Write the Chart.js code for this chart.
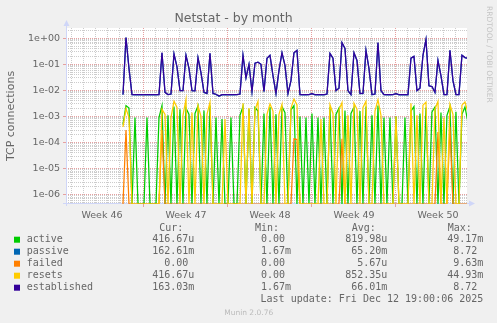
<!DOCTYPE html>
<html>
<head>
<meta charset="utf-8">
<script src="https://cdn.jsdelivr.net/npm/chart.js@4.4.1/dist/chart.umd.min.js"></script>
<style>
  html, body { margin: 0; padding: 0; background: #f0f0f0; }
  canvas { display: block; }
</style>
</head>
<body>
<canvas id="netstat-chart" width="497" height="323"></canvas>
<script>
"use strict"

// one sample every 6 hours, x is in days from the left edge of the graph
const dataStart = 4.25;
const dataStep = 0.25;

const seriesNames = ["active", "passive", "failed", "resets", "established"];
const seriesColors = ["#00cc00", "#0066b3", "#ff8000", "#ffcc00", "#330099"];

const active = [
  0.0005, 0.0026, 0.0021, 0, 0.0009, 0, 0, 0, 0.0009, 0,
  0, 0, 0.0009, 0.0026, 0, 0.0011, 0, 0.0024, 0, 0.0019,
  0, 0.0021, 0.0012, 0, 0.0013, 0.0025, 0, 0.0017, 0, 0.0026,
  0, 0.0009, 0, 0.0008, 0, 0, 0.0009, 0, 0, 0.0011,
  0.0024, 0, 0.0019, 0, 0.0022, 0.0016, 0, 0.0013, 0, 0.0023,
  0, 0.0012, 0, 0.0024, 0.0014, 0, 0.0018, 0.0026, 0, 0.001,
  0, 0.0009, 0, 0.0013, 0, 0.0009, 0, 0.0009, 0, 0.0023,
  0, 0.0012, 0.0021, 0, 0.0017, 0, 0.0013, 0.0022, 0, 0.0016,
  0, 0.0024, 0, 0.0011, 0, 0.0026, 0, 0.0009, 0, 0.0009,
  0, 0.001, 0, 0, 0.0009, 0, 0.0016, 0.0024, 0, 0.0013,
  0, 0.0022, 0, 0.0015, 0.0023, 0, 0.0014, 0, 0.0011, 0.0024,
  0, 0.0015, 0, 0.0012, 0.0023, 0.0006
];
const passive = [
  0.0068, 1.05, 0.068, 0.0068, 0.0067, 0.0067, 0.0068, 0.0067, 0.0067, 0.0068,
  0.0067, 0.0067, 0.0068, 0.27, 0.0083, 0.0068, 0.0071, 0.25, 0.079, 0.0097,
  0.0097, 0.22, 0.069, 0.0097, 0.0095, 0.18, 0.047, 0.0083, 0.0075, 0.26,
  0.0075, 0.007, 0.0059, 0.0067, 0.0067, 0.0068, 0.0067, 0.0067, 0.0068, 0.0071,
  0.22, 0.03, 0.099, 0.0089, 0.11, 0.12, 0.099, 0.0089, 0.17, 0.22,
  0.036, 0.0075, 0.057, 0.27, 0.089, 0.0075, 0.023, 0.27, 0.34, 0.0068,
  0.0067, 0.0067, 0.0068, 0.0074, 0.0067, 0.0067, 0.0068, 0.0067, 0.0071, 0.26,
  0.17, 0.0097, 0.012, 0.67, 0.4, 0.0097, 0.0068, 0.27, 0.14, 0.0075,
  0.0075, 0.34, 0.068, 0.0068, 0.0071, 0.67, 0.0097, 0.0068, 0.0067, 0.0067,
  0.0068, 0.0074, 0.0067, 0.0067, 0.0068, 0.0067, 0.17, 0.2, 0.0097, 0.012,
  0.22, 0.88, 0.015, 0.014, 0.0083, 0.14, 0.036, 0.0068, 0.0068, 0.34,
  0.023, 0.0068, 0.0068, 0.22, 0.18, 0.17
];
const failed = [
  0, 0.0003, 0, 0, 0, 0, 0, 0, 0, 0,
  0, 0, 0, 0.0003, 0, 0, 0, 0, 0, 0,
  0, 0, 0, 0, 0, 0, 0, 0, 0, 0,
  0, 0, 0, 0, 0, 0, 0, 0, 0, 0,
  0, 0, 0, 0, 0, 0, 0, 0, 0, 0,
  0, 0, 0, 0, 0, 0, 0, 0.00014, 0.00013, 0,
  0, 0, 0, 0, 0, 0, 0, 0, 0, 0,
  0, 0, 0, 0.00014, 0, 0, 0, 0, 0, 0,
  0, 0, 0, 0, 0, 0, 0, 0, 0, 0,
  0, 0, 0, 0, 0, 0, 0, 0, 0, 0,
  0, 0, 0, 0, 0, 0.00025, 0, 0, 0, 0.0004,
  0, 0, 0, 0, 0, 0
];
const resets = [
  0.0004, 0.002, 0.0009, 0, 0, 0, 0, 0, 0, 0,
  0, 0, 0, 0.0019, 0.0012, 0, 0.0009, 0.0038, 0.0022, 0,
  0.0011, 0.0045, 0, 0.0014, 0, 0.0026, 0.001, 0, 0.0012, 0.0035,
  0, 0, 0, 0, 0.0008, 0, 0, 0, 0, 0,
  0.0032, 0, 0.0021, 0, 0.0018, 0.0038, 0, 0, 0.0012, 0.003,
  0.0016, 0, 0.0012, 0.0029, 0, 0, 0.0021, 0.0046, 0.0028, 0,
  0, 0, 0, 0, 0, 0, 0.0008, 0, 0, 0.0028,
  0.0013, 0, 0.0018, 0.0034, 0, 0.0011, 0, 0.0032, 0.0019, 0,
  0.0022, 0.0038, 0, 0, 0.0016, 0.0043, 0.0011, 0, 0, 0,
  0, 0.001, 0, 0, 0, 0, 0.0032, 0, 0.0011, 0,
  0.0027, 0.0035, 0, 0, 0.0019, 0.0038, 0, 0.0009, 0, 0.0029,
  0.0012, 0, 0, 0.0027, 0.0036, 0.0014
];
const established = [
  0.0069, 1.06, 0.069, 0.0069, 0.0068, 0.0068, 0.0069, 0.0068, 0.0068, 0.0069,
  0.0068, 0.0068, 0.0069, 0.28, 0.0084, 0.0069, 0.0072, 0.25, 0.08, 0.0098,
  0.0098, 0.22, 0.07, 0.0098, 0.0096, 0.18, 0.048, 0.0084, 0.0076, 0.26,
  0.0076, 0.0071, 0.006, 0.0068, 0.0068, 0.0069, 0.0068, 0.0068, 0.0069, 0.0072,
  0.22, 0.03, 0.1, 0.009, 0.11, 0.12, 0.1, 0.009, 0.17, 0.22,
  0.037, 0.0076, 0.058, 0.28, 0.09, 0.0076, 0.024, 0.28, 0.34, 0.0069,
  0.0068, 0.0068, 0.0069, 0.0075, 0.0068, 0.0068, 0.0069, 0.0068, 0.0072, 0.26,
  0.17, 0.0098, 0.012, 0.68, 0.4, 0.0098, 0.0069, 0.28, 0.14, 0.0076,
  0.0076, 0.34, 0.069, 0.0069, 0.0072, 0.68, 0.0098, 0.0069, 0.0068, 0.0068,
  0.0069, 0.0075, 0.0068, 0.0068, 0.0069, 0.0068, 0.17, 0.2, 0.0098, 0.012,
  0.22, 0.89, 0.015, 0.014, 0.0084, 0.14, 0.037, 0.0069, 0.0069, 0.34,
  0.024, 0.0069, 0.0069, 0.22, 0.18, 0.17
];

// axis ticks and labels
const weekLabels = ["Week 46", "Week 47", "Week 48", "Week 49", "Week 50"];
const weekCenters = [2.5, 9.5, 16.5, 23.5, 30.5];
const weekStarts = [6, 13, 20, 27];
const yTickLabels = ["1e+00", "1e-01", "1e-02", "1e-03", "1e-04", "1e-05", "1e-06"];

// legend table
const curValues = ["416.67u", "162.61m", "0.00 ", "416.67u", "163.03m"];
const minValues = ["0.00 ", "1.67m", "0.00 ", "0.00 ", "1.67m"];
const avgValues = ["819.98u", "65.20m", "5.67u", "852.35u", "66.01m"];
const maxValues = ["49.17m", "8.72 ", "9.63m", "44.93m", "8.72 "];
const lastUpdate = "Last update: Fri Dec 12 19:00:06 2025";

const yMin = 4.4e-7;
const yMax = 2.45;
const xMin = -0.5;
const xMax = 32.92;

const fontColor = "#666666";
const axisColor = "#cfd6f8";
const gridMinor = "#cccccc";
const gridMajor = "#e6a0a0";

function isDecade(v) {
  const l = Math.log10(v);
  return Math.abs(l - Math.round(l)) < 1e-9;
}

// rrdtool draws zero at the bottom of a log graph
function toPoints(values) {
  return values.map((v, i) => ({ x: dataStart + i * dataStep, y: v > 0 ? v : yMin }));
}

const seriesData = [active, passive, failed, resets, established];

const datasets = seriesNames.map((name, i) => ({
  label: name,
  data: toPoints(seriesData[i]),
  borderColor: seriesColors[i],
  backgroundColor: seriesColors[i],
  borderWidth: 1.25,
  pointRadius: 0,
  tension: 0,
  fill: false,
  order: seriesNames.length - i,
}));

const xTicks = [];
for (let d = 0; d <= 32; d++) xTicks.push(d);
weekCenters.forEach(c => xTicks.push(c));
xTicks.sort((a, b) => a - b);

const rrdPlugin = {
  id: "rrdLook",
  beforeDraw(chart) {
    const { ctx, chartArea } = chart;
    ctx.save();
    ctx.fillStyle = "#f0f0f0";
    ctx.fillRect(0, 0, chart.width, chart.height);
    ctx.fillStyle = "#ffffff";
    ctx.fillRect(chartArea.left, chartArea.top, chartArea.right - chartArea.left, chartArea.bottom - chartArea.top);
    ctx.restore();
  },
  beforeDatasetsDraw(chart) {
    const { ctx, chartArea } = chart;
    const l = chartArea.left + 0.5;
    const b = chartArea.bottom - 0.5;
    ctx.save();
    ctx.strokeStyle = axisColor;
    ctx.fillStyle = axisColor;
    ctx.lineWidth = 1;
    ctx.beginPath();
    ctx.moveTo(l, chartArea.bottom + 2);
    ctx.lineTo(l, chartArea.top - 3);
    ctx.moveTo(chartArea.left - 3, b);
    ctx.lineTo(chartArea.right + 3, b);
    ctx.stroke();
    ctx.beginPath();
    ctx.moveTo(l - 3, chartArea.top - 2);
    ctx.lineTo(l + 3, chartArea.top - 2);
    ctx.lineTo(l, chartArea.top - 8);
    ctx.closePath();
    ctx.fill();
    ctx.beginPath();
    ctx.moveTo(chartArea.right + 2, b - 3);
    ctx.lineTo(chartArea.right + 2, b + 3);
    ctx.lineTo(chartArea.right + 8, b);
    ctx.closePath();
    ctx.fill();
    ctx.restore();
  },
  afterDraw(chart) {
    const ctx = chart.ctx;
    ctx.save();

    // watermark on the right
    ctx.fillStyle = "#c4c4c4";
    ctx.font = "7.5px 'DejaVu Sans'";
    ctx.textBaseline = "middle";
    ctx.translate(488.5, 6);
    ctx.rotate(Math.PI / 2);
    ctx.fillText("RRDTOOL / TOBI OETIKER", 0, 0);
    ctx.setTransform(1, 0, 0, 1, 0, 0);

    ctx.font = "10px 'DejaVu Sans Mono'";
    ctx.fillStyle = fontColor;
    ctx.textBaseline = "middle";
    ctx.textAlign = "left";
    ctx.fillText("Cur:", 159.3, 228.3);
    ctx.fillText("Min:", 255, 228.3);
    ctx.fillText("Avg:", 351.7, 228.3);
    ctx.fillText("Max:", 447.7, 228.3);

    for (let i = 0; i < seriesNames.length; i++) {
      const y = 239.7 + i * 12;
      ctx.fillStyle = seriesColors[i];
      ctx.fillRect(14, y - 3, 6, 6);
      ctx.fillStyle = fontColor;
      ctx.textAlign = "left";
      ctx.fillText(seriesNames[i], 26.7, y);
      ctx.textAlign = "right";
      ctx.fillText(curValues[i], 194.3, y);
      ctx.fillText(minValues[i], 291, y);
      ctx.fillText(avgValues[i], 387.3, y);
      ctx.fillText(maxValues[i], 483.3, y);
    }
    ctx.textAlign = "right";
    ctx.fillText(lastUpdate, 483.3, 299.5);

    ctx.textAlign = "center";
    ctx.fillStyle = "#bbbbbb";
    ctx.font = "7.5px 'DejaVu Sans'";
    ctx.fillText("Munin 2.0.76", 248.7, 312.7);
    ctx.restore();
  },
};

const tickFont = { family: "DejaVu Sans", size: 9.5 };

new Chart(document.getElementById("netstat-chart"), {
  type: "line",
  data: { datasets: datasets },
  plugins: [rrdPlugin],
  options: {
    responsive: false,
    animation: false,
    events: [],
    layout: { autoPadding: false, padding: { left: 0, right: 30, top: 0, bottom: 99 } },
    plugins: {
      legend: { display: false },
      tooltip: { enabled: false },
      title: {
        display: true,
        text: "Netstat - by month",
        color: fontColor,
        font: { family: "DejaVu Sans", size: 12.5, weight: "normal" },
        padding: { top: 11, bottom: 2 },
      },
    },
    scales: {
      x: {
        type: "linear",
        min: xMin,
        max: xMax,
        afterBuildTicks(scale) {
          scale.ticks = xTicks.map(v => ({ value: v }));
        },
        afterFit(scale) {
          scale.height = 20;
        },
        ticks: {
          autoSkip: false,
          maxRotation: 0,
          padding: 3,
          color: fontColor,
          font: tickFont,
          callback(value) {
            const k = weekCenters.indexOf(value);
            return k >= 0 ? weekLabels[k] : "";
          },
        },
        grid: {
          lineWidth: 1,
          tickLength: 3,
          color(c) {
            const v = c.tick.value;
            if (weekCenters.includes(v)) return "rgba(0,0,0,0)";
            return weekStarts.includes(v) ? gridMajor : gridMinor;
          },
          tickColor(c) {
            return weekStarts.includes(c.tick.value) ? gridMajor : "rgba(0,0,0,0)";
          },
        },
        border: { display: false, dash: [1, 1] },
      },
      y: {
        type: "logarithmic",
        min: yMin,
        max: yMax,
        afterBuildTicks(scale) {
          const ticks = [];
          for (let e = -7; e <= 0; e++) {
            for (let k = 1; k <= 9; k++) {
              const v = k * Math.pow(10, e);
              if (v >= yMin && v <= yMax) ticks.push({ value: v });
            }
          }
          scale.ticks = ticks;
        },
        afterFit(scale) {
          scale.width = 66;
        },
        title: {
          display: true,
          text: "TCP connections",
          color: fontColor,
          font: { family: "DejaVu Sans", size: 11 },
          padding: { top: 4.4, bottom: 0 },
        },
        ticks: {
          autoSkip: false,
          padding: 3,
          color: fontColor,
          font: tickFont,
          callback(value) {
            return isDecade(value) ? yTickLabels[-Math.round(Math.log10(value))] : "";
          },
        },
        grid: {
          lineWidth: 1,
          tickLength: 3,
          color(c) {
            return isDecade(c.tick.value) ? gridMajor : gridMinor;
          },
          tickColor(c) {
            return isDecade(c.tick.value) ? gridMajor : "rgba(0,0,0,0)";
          },
        },
        border: { display: false, dash: [1, 1] },
      },
    },
  },
});
</script>
</body>
</html>
